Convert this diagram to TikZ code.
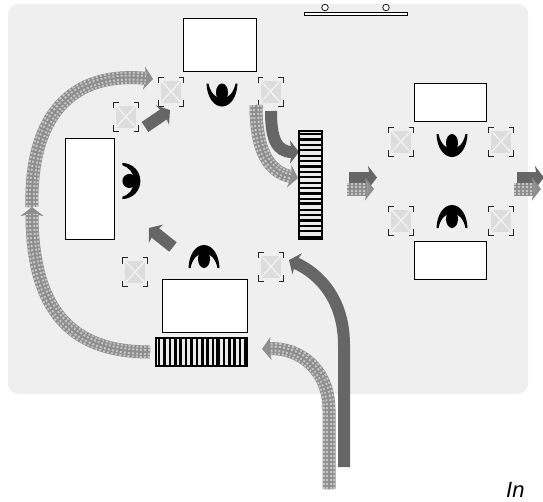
\documentclass[tikz,border=0pt]{standalone}
\usepackage{fontspec}
\setsansfont{Liberation Sans}
\usetikzlibrary{arrows.meta, calc}

\definecolor{panelgray}{HTML}{EFEFEF}
\definecolor{flowdark}{HTML}{666666}
\definecolor{flowgray}{HTML}{8E8E8E}
\definecolor{flowlight}{HTML}{C6C6C6}
\definecolor{bufgray}{HTML}{DDDDDD}

\begin{document}
\begin{tikzpicture}[
    x=1pt, y=-1pt,
    panel/.style={rectangle, fill=panelgray, rounded corners=10pt, minimum width=520pt, minimum height=390pt, inner sep=0pt},
    machine/.style={rectangle, draw=black, fill=white, line width=0.9pt, inner sep=0pt},
    buffer/.style={rectangle, fill=bufgray, minimum width=20pt, minimum height=22pt, inner sep=0pt,
        path picture={\draw[white!70!bufgray, line width=1.2pt] (path picture bounding box.north west) -- (path picture bounding box.south east) (path picture bounding box.north east) -- (path picture bounding box.south west);}},
    cornermark/.style={draw=black!85, line width=0.8pt},
    conveyor/.style={rectangle, draw=black, fill=black!8, line width=2.4pt, inner sep=0pt},
    roller/.style={draw=black, line width=#1},
    flowsolid/.style={draw=flowdark, line width=12pt, -{Stealth[length=9pt, width=23pt, inset=2pt, fill=flowdark]}},
    dotrow/.style={draw=flowlight, line width=#1, dash pattern=on 2pt off 2pt, -, shorten >=7pt},
    plainrow/.style={draw=flowgray, line width=#1, -, shorten >=7pt},
    flowdotted/.style={draw=flowgray, line width=13pt, -{Stealth[length=9pt, width=23pt, inset=2pt, fill=flowgray]},
        postaction={dotrow=12pt}, postaction={plainrow=8pt}, postaction={dotrow=6pt}, postaction={plainrow=2pt}},
    operator/.pic={
        \fill[black] (-15.5,-11) .. controls (-15,3) and (-8,12) .. (0,12) .. controls (8,12) and (15,3) .. (15.5,-11)
            -- (13.5,-11) .. controls (12,-3) and (7,4) .. (0,4) .. controls (-7,4) and (-12,-3) .. (-13.5,-11) -- cycle;
        \fill[black] (0,-2) ellipse (6pt and 9pt);
    }
]
\useasboundingbox (0,0) rectangle (543,501);

% Floor
\node[panel] (floor) at (268,199) {};
\draw[black!6, line width=0.6pt] (floor.west |- 0,380) coordinate (seamw) -- (floor.east |- seamw);

% Top bar
\node[rectangle, draw=black, fill=white, line width=0.7pt, minimum width=103pt, minimum height=2.5pt, inner sep=0pt] (bar) at (355.5,14) {};
\foreach \n/\x in {1/325,2/386} {
    \node[circle, draw=black, fill=white, line width=0.7pt, minimum size=6.5pt, inner sep=0pt] (wheel\n) at (\x,7.5) {};
}

% Machines
\node[machine, minimum width=73pt, minimum height=53pt] (topm) at (219.5,44.5) {};
\node[machine, minimum width=49pt, minimum height=101pt] (leftm) at (89.5,188.5) {};
\node[machine, minimum width=85pt, minimum height=53pt] (botm) at (204.5,305.5) {};
\node[machine, minimum width=72pt, minimum height=38pt] (rtopm) at (450,102) {};
\node[machine, minimum width=72pt, minimum height=38pt] (rbotm) at (450,260) {};

% Buffers
\foreach \n/\x/\y in {a/171/91.5, b/126/116.5, c/270.5/91.5, d/135/272, e/271/266.5, f/401/141.5, g/501/141.5, h/401/220.5, i/501/220.5} {
    \node[buffer] (buf\n) at (\x,\y) {};
    \foreach \sx/\sy in {-1/-1, 1/-1, 1/1, -1/1} {
        \draw[cornermark] ($(buf\n)+(\sx*12.5,\sy*8.5)$) -- ++(0,\sy*6) -- ++(-\sx*5,0);
    }
}

% Operators
\pic (opt) at (222,94.5) {operator};
\pic[rotate=90, xscale=1.17, yscale=0.78] (opl) at (131,181) {operator};
\pic[rotate=180] (opb) at (204,257) {operator};
\pic (oprt) at (452,145) {operator};
\pic[rotate=180] (oprb) at (452,217) {operator};

% Solid flows
\coordinate (s1a) at (145,127); \coordinate (s1b) at (170,110);
\coordinate (s2a) at (173,247); \coordinate (s2b) at (149,228);
\coordinate (s3a) at (271,111); \coordinate (s3b) at (299,152);
\coordinate (s4a) at (344,467); \coordinate (s4b) at (344,345); \coordinate (s4c) at (289,260);
\coordinate (s5a) at (349,177.5); \coordinate (s5b) at (377,177.5);
\coordinate (s6a) at (517,177.5); \coordinate (s6b) at (544,177.5);
\draw[flowsolid] (s1a) -- (s1b);
\draw[flowsolid] (s2a) -- (s2b);
\draw[flowsolid] (s3a) .. controls (271,138) and (276,152) .. (s3b);
\draw[flowsolid] (s4a) -- (s4b) .. controls (344,300) and (320,274) .. (s4c);
\draw[flowsolid] (s5a) -- (s5b);
\draw[flowsolid] (s6a) -- (s6b);

% Dotted flows
\coordinate (d1a) at (150,352); \coordinate (d1b) at (32,207); \coordinate (d1c) at (153,79);
\coordinate (d2a) at (256,105); \coordinate (d2b) at (298,178);
\coordinate (d3a) at (329,489); \coordinate (d3b) at (329,410); \coordinate (d3c) at (262,349);
\coordinate (d4a) at (347,189); \coordinate (d4b) at (374,189);
\coordinate (d5a) at (514,189); \coordinate (d5b) at (541,189);
\draw[flowdotted] (d1a) .. controls (80,352) and (32,320) .. (d1b);
\draw[flowdotted] (d1b) .. controls (30,130) and (60,70) .. (d1c);
\draw[flowdotted] (d2a) .. controls (256,150) and (268,172) .. (d2b);
\draw[flowdotted] (d3a) -- (d3b) .. controls (329,370) and (300,347) .. (d3c);
\draw[flowdotted] (d4a) -- (d4b);
\draw[flowdotted] (d5a) -- (d5b);

% Conveyors
\foreach \n/\y in {1/149,2/185,3/221} {
    \node[conveyor, minimum width=23pt, minimum height=36pt] (vconv\n) at (310.5,\y) {};
}
\foreach \y in {134,139.4,...,238} { \draw[roller=2.2pt] (vconv1.west |- 0,\y) -- (vconv1.east |- 0,\y); }
\foreach \n/\x in {1/171,2/201.5,3/232} {
    \node[conveyor, minimum width=30.5pt, minimum height=28pt] (hconv\n) at (\x,352) {};
}
\foreach \x in {159,164.4,...,246} { \draw[roller=2.6pt] (\x,338) -- (\x,366); }

% Label
\node[font=\sffamily\itshape\fontsize{22}{22}\selectfont, anchor=base west, inner sep=0pt] (inlabel) at (506,497.5) {In};

\end{tikzpicture}
\end{document}
